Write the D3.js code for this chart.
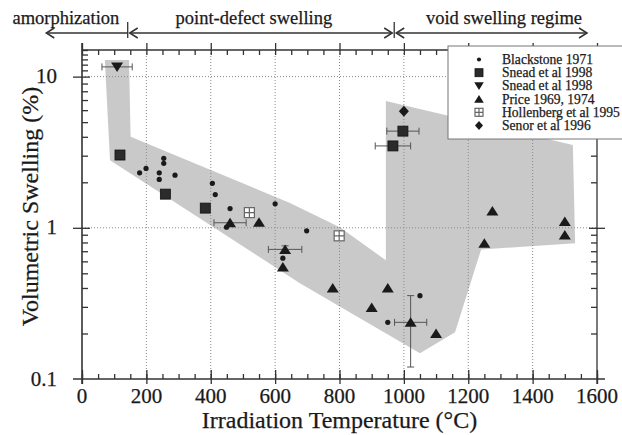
<!DOCTYPE html>
<html><head><meta charset="utf-8">
<script src="https://cdn.jsdelivr.net/npm/d3@7"></script>
<style>
body{margin:0;background:#fff}
svg{display:block}
text{font-family:"Liberation Serif","Times New Roman",serif;fill:#1a1a1a;stroke:#1a1a1a;stroke-width:0.25px}
</style>
</head><body>
<svg id="c" width="622" height="435"></svg>
<script>
// ---------- data ----------
const xMajor = [0,200,400,600,800,1000,1200,1400,1600];
const xMinor = d3.range(0,1601,50);
const yMajor = [0.1,1,10];
const yLabels = ["0.1","1","10"];
const gridX = [200,400,600,800,1000,1200,1400];
const gridY = [1,10];

// shaded band outline [T (°C), swelling (%)]
const bandT = [71,146,151,646,801,944,944,1525,1532,1240,1159,1050,677,87];
const bandV = [12.9,12.9,4.0,1.46,1.01,0.61,6.9,3.53,0.79,0.72,0.204,0.148,0.43,2.8];

// Blackstone 1971
const blackstoneT = [179,199,240,240,254,254,289,405,414,460,449,600,698,624,950,1050];
const blackstoneV = [2.31,2.47,2.31,2.09,2.88,2.67,2.23,1.97,1.66,1.34,1.01,1.44,0.955,0.63,0.237,0.356];

// Snead et al 1998 (squares), x error half-width
const sneadSqT = [118,259,383,966,997];
const sneadSqV = [3.03,1.67,1.35,3.48,4.36];
const sneadSqErr = [0,0,0,55,50];

// Snead et al 1998 (down triangle)
const sneadTriT = [109];
const sneadTriV = [11.6];
const sneadTriErr = [47];

// Price 1969, 1974
const priceT = [460,550,631,624,779,900,950,1021,1100,1250,1275,1500,1500];
const priceV = [1.08,1.09,0.72,0.55,0.40,0.297,0.40,0.237,0.20,0.79,1.29,1.10,0.895];
const priceXErr = [50,0,52,0,0,0,0,50,0,0,0,0,0];
const priceYLo = [null,null,0.69,null,null,null,null,0.12,null,null,null,null,null];
const priceYHi = [null,null,0.76,null,null,null,null,0.356,null,null,null,null,null];

// Hollenberg et al 1995
const hollT = [520,799];
const hollV = [1.26,0.885];

// Senor et al 1996
const senorT = [1000];
const senorV = [5.9];

// regimes (°C)
const regimeNames = ["amorphization","point-defect swelling","void swelling regime"];
const regimeFrom = [-111,142,970];
const regimeTo = [142,970,1569];
const regimeLabelT = [-50,534,1311];

const legendNames = ["Blackstone 1971","Snead et al 1998","Snead et al 1998","Price 1969, 1974","Hollenberg et al 1995","Senor et al 1996"];

// ---------- drawing ----------
const svg = d3.select("#c");
const x = d3.scaleLinear().domain([0,1600]).range([82,597]);
const y = d3.scaleLog().domain([0.1,15]).range([379,50]);
const X0 = x(0), X1 = x(1600), Y0 = y(0.1), Y1 = y(15);

// band
svg.append("path")
  .attr("d", d3.line()(bandT.map((t,i)=>[x(t), y(bandV[i])])) + "Z")
  .attr("fill","#c9c9c9");

// grid
const g = svg.append("g").attr("stroke","#8a8a8a").attr("stroke-width",1).attr("stroke-dasharray","1,2");
gridX.forEach(t=>g.append("line").attr("x1",x(t)).attr("x2",x(t)).attr("y1",Y1).attr("y2",Y0));
gridY.forEach(v=>g.append("line").attr("x1",X0).attr("x2",X1).attr("y1",y(v)).attr("y2",y(v)));

// axes with d3 axis generators
const ax = svg.append("g").attr("class","axes");
function styleAxis(sel){ sel.select(".domain").remove(); sel.selectAll("line").attr("stroke","#333").attr("stroke-width",1.3); }

const yMinor = [];
[0.1,1].forEach(d=>{for(let k=2;k<=9;k++) yMinor.push(d*k);});
yMinor.push(11,12,13,14,15);

ax.append("g").attr("transform",`translate(0,${Y0})`)
  .call(d3.axisTop(x).tickValues(xMinor).tickSize(5).tickFormat(""))
  .call(styleAxis);
ax.append("g").attr("transform",`translate(0,${Y0+5})`)
  .call(d3.axisTop(x).tickValues(xMajor).tickSize(14).tickFormat(""))
  .call(styleAxis);
ax.append("g").attr("transform",`translate(0,${Y1})`)
  .call(d3.axisBottom(x).tickValues(xMinor).tickSize(5).tickFormat(""))
  .call(styleAxis);
ax.append("g").attr("transform",`translate(0,${Y1-7})`)
  .call(d3.axisBottom(x).tickValues(xMajor).tickSize(7).tickFormat(""))
  .call(styleAxis);
ax.append("g").attr("transform",`translate(${X0},0)`)
  .call(d3.axisRight(y).tickValues(yMinor).tickSize(6).tickFormat(""))
  .call(styleAxis);
ax.append("g").attr("transform",`translate(${X0-9},0)`)
  .call(d3.axisRight(y).tickValues(yMajor.slice(1)).tickSize(17).tickFormat(""))
  .call(styleAxis);
ax.append("g").attr("transform",`translate(${X1},0)`)
  .call(d3.axisLeft(y).tickValues(yMinor).tickSize(6).tickFormat(""))
  .call(styleAxis);
ax.append("g").attr("transform",`translate(${X1+8},0)`)
  .call(d3.axisLeft(y).tickValues(yMajor.slice(1)).tickSize(16).tickFormat(""))
  .call(styleAxis);

ax.append("line").attr("x1",X0-9).attr("x2",X1+8).attr("y1",Y0).attr("y2",Y0).attr("stroke","#333").attr("stroke-width",1.6);
ax.append("line").attr("x1",X0).attr("x2",X1).attr("y1",Y1).attr("y2",Y1).attr("stroke","#333").attr("stroke-width",1.3);
ax.append("line").attr("x1",X0).attr("x2",X0).attr("y1",Y1-7).attr("y2",Y0+5).attr("stroke","#333").attr("stroke-width",1.6);
ax.append("line").attr("x1",X1).attr("x2",X1).attr("y1",Y1).attr("y2",Y0+5).attr("stroke","#333").attr("stroke-width",1.3);

// tick labels
xMajor.forEach(t=>svg.append("text").attr("x",x(t)).attr("y",Y0+24).attr("text-anchor","middle")
  .attr("font-size",21).text(t));
yMajor.forEach((v,i)=>svg.append("text").attr("x",57).attr("y",y(v)+6.5).attr("text-anchor","end")
  .attr("font-size",21).text(yLabels[i]));

// axis titles
svg.append("text").attr("x",(X0+X1)/2).attr("y",428).attr("text-anchor","middle")
  .attr("font-size",24).text("Irradiation Temperature (°C)");
svg.append("text").attr("transform",`translate(38,${(Y0+Y1)/2-8}) rotate(-90)`).attr("text-anchor","middle")
  .attr("font-size",24).text("Volumetric Swelling (%)");

// error bars
const eb = svg.append("g").attr("stroke","#555").attr("stroke-width",1);
function xErr(t,v,e){
  if(!e) return;
  const yy=y(v);
  eb.append("line").attr("x1",x(t-e)).attr("x2",x(t+e)).attr("y1",yy).attr("y2",yy);
  [t-e,t+e].forEach(tt=>eb.append("line").attr("x1",x(tt)).attr("x2",x(tt)).attr("y1",yy-3.5).attr("y2",yy+3.5));
}
function yErr(t,lo,hi){
  if(lo==null) return;
  const xx=x(t);
  eb.append("line").attr("x1",xx).attr("x2",xx).attr("y1",y(lo)).attr("y2",y(hi));
  [lo,hi].forEach(v=>eb.append("line").attr("x1",xx-3.5).attr("x2",xx+3.5).attr("y1",y(v)).attr("y2",y(v)));
}
sneadSqT.forEach((t,i)=>xErr(t,sneadSqV[i],sneadSqErr[i]));
sneadTriT.forEach((t,i)=>xErr(t,sneadTriV[i],sneadTriErr[i]));
priceT.forEach((t,i)=>{xErr(t,priceV[i],priceXErr[i]); yErr(t,priceYLo[i],priceYHi[i]);});

// marker shapes
const shapes = {
  circle:(g,cx,cy,s)=>g.append("circle").attr("cx",cx).attr("cy",cy).attr("r",2.6*s).attr("fill","#1a1a1a"),
  square:(g,cx,cy,s)=>g.append("rect").attr("x",cx-5*s).attr("y",cy-5*s).attr("width",10*s).attr("height",10*s)
            .attr("fill","#2b2b2b").attr("stroke","#111").attr("stroke-width",0.8),
  down:(g,cx,cy,s)=>g.append("path").attr("d",`M${cx-6*s},${cy-4.5*s}L${cx+6*s},${cy-4.5*s}L${cx},${cy+5*s}Z`).attr("fill","#1a1a1a"),
  up:(g,cx,cy,s)=>g.append("path").attr("d",`M${cx-6*s},${cy+4.5*s}L${cx+6*s},${cy+4.5*s}L${cx},${cy-5*s}Z`).attr("fill","#1a1a1a"),
  holl:(g,cx,cy,s)=>{
    g.append("rect").attr("x",cx-5*s).attr("y",cy-5*s).attr("width",10*s).attr("height",10*s)
      .attr("fill","#fff").attr("stroke","#666").attr("stroke-width",1.2);
    g.append("path").attr("d",`M${cx-5*s},${cy}H${cx+5*s}M${cx},${cy-5*s}V${cy+5*s}`).attr("stroke","#666").attr("stroke-width",1.2);
  },
  diamond:(g,cx,cy,s)=>g.append("path").attr("d",`M${cx},${cy-5.5*s}L${cx+5*s},${cy}L${cx},${cy+5.5*s}L${cx-5*s},${cy}Z`).attr("fill","#1a1a1a")
};
const mk = svg.append("g");
blackstoneT.forEach((t,i)=>shapes.circle(mk,x(t),y(blackstoneV[i]),1));
sneadSqT.forEach((t,i)=>shapes.square(mk,x(t),y(sneadSqV[i]),1));
sneadTriT.forEach((t,i)=>shapes.down(mk,x(t),y(sneadTriV[i]),1));
priceT.forEach((t,i)=>shapes.up(mk,x(t),y(priceV[i]),1));
hollT.forEach((t,i)=>shapes.holl(mk,x(t),y(hollV[i]),1));
senorT.forEach((t,i)=>shapes.diamond(mk,x(t),y(senorV[i]),1));

// legend
const lg = svg.append("g");
lg.append("rect").attr("x",448).attr("y",46).attr("width",180).attr("height",93)
  .attr("fill","#fff").attr("stroke","#777").attr("stroke-width",1);
const legShapes = ["circle","square","down","up","holl","diamond"];
legendNames.forEach((n,i)=>{
  const by = 64 + i*13.2;
  shapes[legShapes[i]](lg,479,by-4.5,0.8);
  lg.append("text").attr("x",502).attr("y",by)
    .style("font-family","'Liberation Serif','Times New Roman',serif").style("font-size","13.6px").text(n);
});

// regime annotations
const an = svg.append("g");
const ay = 33;
regimeNames.forEach((n,i)=>{
  an.append("text").attr("x",x(regimeLabelT[i])).attr("y",24).attr("text-anchor","middle")
    .attr("font-size",18.5).text(n);
});
function line(x1,y1,x2,y2){an.append("line").attr("x1",x1).attr("y1",y1).attr("x2",x2).attr("y2",y2).attr("stroke","#333").attr("stroke-width",1.3);}
function head(px,dir){ an.append("path").attr("d",`M${px+dir*8},${ay-5}L${px},${ay}L${px+dir*8},${ay+5}`)
  .attr("fill","none").attr("stroke","#333").attr("stroke-width",1.5); }
[regimeTo[0], regimeTo[1]].forEach(t=>line(x(t),22,x(t),38));
line(x(regimeFrom[0]),ay,x(regimeTo[0]),ay); head(x(regimeFrom[0]),1);
line(x(regimeFrom[1])+2,ay,x(regimeTo[1])-2,ay); head(x(regimeFrom[1])+2,1); head(x(regimeTo[1])-2,-1);
line(x(regimeFrom[2])+2,ay,x(regimeTo[2]),ay); head(x(regimeFrom[2])+2,1); head(x(regimeTo[2]),-1);
</script>
</body></html>
